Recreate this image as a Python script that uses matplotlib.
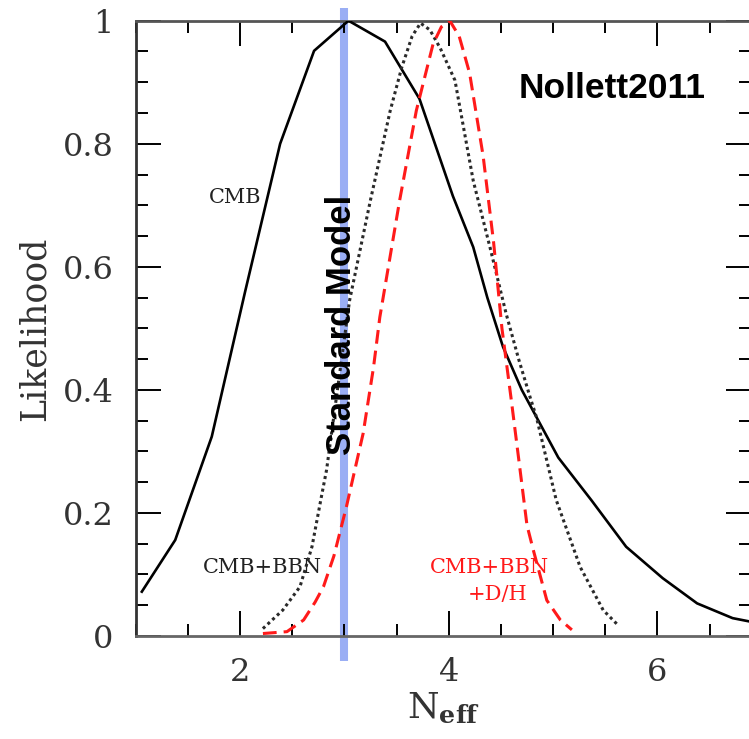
import numpy as np
import matplotlib
matplotlib.use("Agg")
import matplotlib.pyplot as plt
from matplotlib.ticker import MultipleLocator, FuncFormatter

# Likelihood curves for N_eff (Nollett 2011)

# CMB only
cmb_x = [1.06, 1.38, 1.73, 2.05, 2.385, 2.71, 3.04, 3.39, 3.72, 4.04, 4.235,
         4.37, 4.52, 4.70, 5.05, 5.37, 5.70, 6.05, 6.38, 6.72, 7.05]
cmb_y = [0.072, 0.156, 0.324, 0.56, 0.80, 0.951, 1.0, 0.966, 0.873, 0.715, 0.632,
         0.55, 0.47, 0.40, 0.29, 0.22, 0.145, 0.094, 0.053, 0.029, 0.018]

# CMB + BBN
bbn_x = [2.22, 2.41, 2.575, 2.69, 2.78, 2.83, 2.95, 3.05, 3.25, 3.44, 3.55, 3.65,
         3.73, 3.82, 3.92, 4.06, 4.235, 4.395, 4.55, 4.67, 4.78, 4.84, 5.03, 5.26,
         5.48, 5.62]
bbn_y = [0.012, 0.042, 0.08, 0.145, 0.226, 0.27, 0.42, 0.545, 0.708, 0.854, 0.924,
         0.975, 0.996, 0.985, 0.955, 0.903, 0.74, 0.632, 0.524, 0.45, 0.388, 0.356,
         0.221, 0.112, 0.042, 0.018]

# CMB + BBN + D/H
dh_x = [2.22, 2.45, 2.61, 2.72, 2.80, 2.90, 3.02, 3.18, 3.28, 3.34, 3.53, 3.69,
        3.85, 3.93, 4.01, 4.10, 4.20, 4.33, 4.43, 4.51, 4.60, 4.68, 4.75, 4.81,
        4.94, 5.07, 5.18]
dh_y = [0.004, 0.007, 0.026, 0.055, 0.08, 0.13, 0.21, 0.329, 0.437, 0.518, 0.708,
        0.854, 0.962, 0.99, 1.0, 0.975, 0.915, 0.78, 0.64, 0.50, 0.383, 0.275,
        0.18, 0.14, 0.058, 0.026, 0.01]

n_eff_sm = 3.0

plt.rcParams["font.family"] = "DejaVu Serif"
plt.rcParams["mathtext.fontset"] = "dejavuserif"

fig = plt.figure(figsize=(7.49, 7.39), dpi=100)
ax = fig.add_axes([0.181, 0.1394, 0.8222, 0.8326])

# standard model value
ax.plot([n_eff_sm, n_eff_sm], [-0.04, 1.02], color="#9aaef4", lw=5.8,
        clip_on=False, zorder=1.5, solid_capstyle="butt")

ax.plot(cmb_x, cmb_y, color="black", lw=1.9, zorder=4)
ax.plot(bbn_x, bbn_y, color="#2a2a2a", lw=2.2, linestyle=(0, (1, 1.1)), zorder=4)
ax.plot(dh_x, dh_y, color="#ff1a1a", lw=2.2, linestyle=(0, (4.5, 2.3)), zorder=4)

ax.set_xlim(1, 6.9)
ax.set_ylim(0, 1)

ax.xaxis.set_major_locator(MultipleLocator(2))
ax.xaxis.set_minor_locator(MultipleLocator(0.5))
ax.yaxis.set_major_locator(MultipleLocator(0.2))
ax.yaxis.set_minor_locator(MultipleLocator(0.05))
ax.yaxis.set_major_formatter(FuncFormatter(lambda v, p: f"{v:g}"))

ax.tick_params(which="both", direction="in", top=True, right=True,
               width=1.4, color="black")
ax.tick_params(which="major", length=18)
ax.tick_params(which="minor", length=8.6)
ax.tick_params(axis="y", which="major", pad=16, labelsize=23, labelcolor="#333333")
ax.tick_params(axis="x", which="major", pad=15, labelsize=23, labelcolor="#333333")

for side in ["left", "bottom", "top", "right"]:
    ax.spines[side].set_linewidth(2)
ax.spines["left"].set_color("#333333")
ax.spines["bottom"].set_color("#666666")
ax.spines["top"].set_color("#555555")

ax.set_ylabel("Likelihood", fontsize=25, color="#333333", labelpad=8)
ax.set_xlabel(r"$\mathrm{N}_{\mathbf{eff}}$", fontsize=26, color="#333333", labelpad=2)

ax.text(1.954, 0.712, "CMB", fontsize=15, color="#222222", ha="center", va="center")
ax.text(2.216, 0.111, "CMB+BBN", fontsize=15, color="#222222", ha="center", va="center")
ax.text(4.395, 0.111, "CMB+BBN", fontsize=15, color="#ff1a1a", ha="center", va="center")
ax.text(4.466, 0.067, "+D/H", fontsize=15, color="#ff1a1a", ha="center", va="center")

ax.text(2.977, 0.505, "Standard Model", fontsize=25, fontweight="bold",
        family="Liberation Sans", rotation=90, ha="center", va="center", zorder=5)
ax.text(5.568, 0.890, "Nollett2011", fontsize=25.5, fontweight="bold",
        family="Liberation Sans", ha="center", va="center")

fig.savefig("out.png", dpi=100)
